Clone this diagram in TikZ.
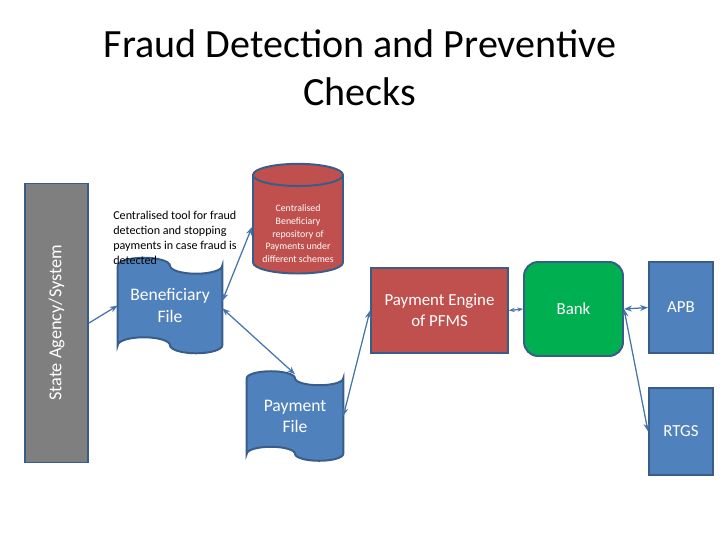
\documentclass[tikz,border=0pt]{standalone}
\usepackage{fontspec}
\setmainfont{Carlito}
\usepackage{tikz}
\usetikzlibrary{arrows.meta, positioning, shapes.geometric, calc, backgrounds}
\usepackage{xcolor}
\definecolor{fdblue}{HTML}{4F81BD}
\definecolor{fdred}{HTML}{C0504D}
\definecolor{fdgreen}{HTML}{00B050}
\definecolor{fdedge}{HTML}{385D8A}
\definecolor{fdgray}{HTML}{7F7F7F}

% wavy outline behind a file node: #1 node name, #2 bend in px
\newcommand{\fdwave}[2]{%
  \begin{scope}[on background layer]
    \path[fdwaveline] let \p1=(#1.north west), \p2=(#1.south east),
      \n1={(\x2-\x1)/4} in
      (\x1,\y1) arc[start angle=180, end angle=0, x radius=\n1, y radius=#2*0.025cm]
                arc[start angle=180, end angle=360, x radius=\n1, y radius=#2*0.025cm]
      -- (\x2,\y2) arc[start angle=0, end angle=-180, x radius=\n1, y radius=#2*0.025cm]
                arc[start angle=0, end angle=180, x radius=\n1, y radius=#2*0.025cm]
      -- cycle;
  \end{scope}}

\begin{document}
\begin{tikzpicture}[
  x=0.025cm, y=-0.025cm,
  fdbox/.style={draw=fdedge, line width=1.4pt, text=white, align=center,
                inner sep=1mm, font=\fontsize{12}{15}\selectfont},
  fdrect/.style={fdbox, rectangle},
  fdfile/.style={rectangle, text=white, align=center, inner sep=1mm,
                 font=\fontsize{12.5}{15}\selectfont},
  fdwaveline/.style={fill=fdblue, draw=fdedge, line width=1.4pt},
  fddb/.style={fdbox, cylinder, shape border rotate=90, aspect=0.28,
               fill=fdred, font=\fontsize{7}{9.2}\selectfont},
  fdarr/.style={{Stealth[length=2mm]}-{Stealth[length=2mm]}, draw=fdblue!90!black,
                line width=0.9pt},
  fdone/.style={-{Stealth[length=2mm]}, draw=fdblue!90!black, line width=0.9pt}
]
\useasboundingbox (0,0) rectangle (720,540);

% ---------------------------------------------- heading
\node[align=center, font=\fontsize{28.5}{34}\selectfont] (title) at (360,68)
  {Fraud Detection and Preventive\\ Checks};

% ---------------------------------------------- left column
\node[fdrect, fill=fdgray, rotate=90, font=\fontsize{13}{15}\selectfont,
      minimum width=279*0.025cm, minimum height=63*0.025cm]
  (agency) at (56.5,323) {State Agency/System};

\node[align=left, anchor=north west, inner sep=0pt,
      font=\fontsize{8.6}{10.7}\selectfont] (tool) at (113,211)
  {Centralised tool for fraud\\ detection and stopping\\ payments in case fraud is\\ detected};

% ---------------------------------------------- the two files
\node[fdfile, minimum width=104*0.025cm, minimum height=79*0.025cm]
  (benef) at (170,305.5) {Beneficiary\\ File};
\fdwave{benef}{8}
\node[fdfile, minimum width=96*0.025cm, minimum height=75*0.025cm]
  (payfile) at (295,416) {Payment\\ File};
\fdwave{payfile}{7}

% ---------------------------------------------- the repository
\node[fddb, minimum width=90*0.025cm, minimum height=90*0.025cm]
  (repo) at (298,227)
  {\\[1.8mm]Centralised\\ Beneficiary\\ repository of\\ Payments under\\ different schemes};

% ---------------------------------------------- payment chain
\node[fdrect, fill=fdred, minimum width=137*0.025cm, minimum height=85*0.025cm]
  (engine) at (439.5,310.5) {Payment Engine\\ of PFMS};
\node[fdbox, rounded corners=10pt, fill=fdgreen,
      minimum width=99*0.025cm, minimum height=94*0.025cm]
  (bank) at (573.5,309) {Bank};
\node[fdrect, fill=fdblue, minimum width=64*0.025cm, minimum height=91*0.025cm]
  (apb) at (681,307.5) {APB};
\node[fdrect, fill=fdblue, minimum width=64*0.025cm, minimum height=87*0.025cm]
  (rtgs) at (681,431.5) {RTGS};

% ---------------------------------------------- connectors
\draw[fdone] (agency.south) -- (benef.west);
\draw[fdarr] (benef.5) -- (repo.west);
\draw[fdarr] (benef.-3) -- ($(payfile.north)+(0,-4)$);
\draw[fdarr] (payfile.east) -- (engine.west);
\draw[fdarr, {Stealth[length=1.4mm]}-{Stealth[length=1.4mm]}] (engine.east) -- (bank.west);
\draw[fdarr] (bank.east) -- (apb.west);
\draw[fdarr] (bank.east) -- (rtgs.west);

\end{tikzpicture}
\end{document}
